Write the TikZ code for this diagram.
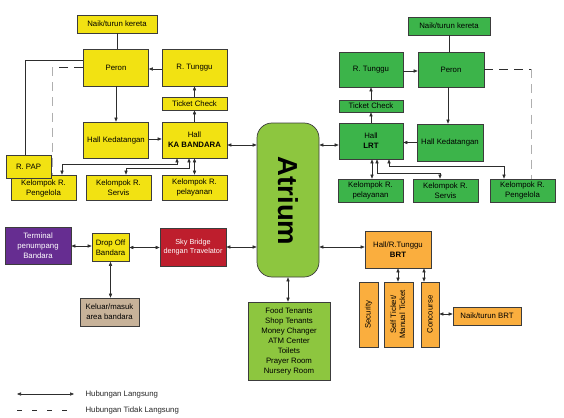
\documentclass[tikz,border=0pt]{standalone}
\usepackage{fontspec}
\setmainfont{Liberation Sans}
\usetikzlibrary{arrows.meta,calc}
\definecolor{cy}{RGB}{242,226,18}
\definecolor{cg}{RGB}{60,180,74}
\definecolor{clg}{RGB}{141,198,63}
\definecolor{cor}{RGB}{250,174,62}
\definecolor{cpu}{RGB}{102,45,145}
\definecolor{cre}{RGB}{190,30,45}
\definecolor{ctan}{RGB}{199,178,153}
\definecolor{bord}{RGB}{60,60,60}
\definecolor{lin}{RGB}{45,45,45}
\definecolor{dlight}{RGB}{175,175,175}
\newcommand\myfs{\fontsize{7.8}{10}\selectfont}
\begin{document}
\begin{tikzpicture}[x=1pt,y=-1pt,
  box/.style={draw=bord, line width=0.7pt, inner sep=1pt, align=center, font=\myfs, text=black},
  sz/.style 2 args={minimum width=#1pt, minimum height=#2pt},
  conn/.style={draw=lin, line width=0.6pt},
  arr/.style={conn, -{Triangle[length=4pt,width=3.2pt]}},
  darr/.style={conn, {Triangle[length=4pt,width=3.2pt]}-{Triangle[length=4pt,width=3.2pt]}},
  dsh/.style={line width=0.8pt, dash pattern=on 9pt off 6pt},
  lgtxt/.style={anchor=west, font=\fontsize{7.8}{9}\selectfont, text=black!85}
]
\useasboundingbox (0,0) rectangle (564,417);

% ---------- left (KA Bandara) ----------
\node[box, fill=cy, sz={80}{18}] (nkL) at (117,24) {Naik/turun kereta};
\node[box, fill=cy, sz={65}{37}] (peronL) at (116,67.5) {Peron};
\node[box, fill=cy, sz={65}{37}] (tungguL) at (194.5,67.5) {R. Tunggu};
\node[box, fill=cy, sz={65}{13}] (tcL) at (194.5,103.5) {Ticket Check};
\node[box, fill=cy, sz={65}{36}] (hallKL) at (116,140) {Hall Kedatangan};
\node[box, fill=cy, sz={65}{36}] (hallKA) at (194.5,140) {Hall\\\textbf{KA BANDARA}};
\node[box, fill=cy, sz={65}{25}] (pengL) at (43.5,187.5) {\raisebox{-3pt}[0pt][0pt]{\begin{tabular}{@{}c@{}}Kelompok R.\\Pengelola\end{tabular}}};
\node[box, fill=cy, sz={65}{25}] (servL) at (118.5,187.5) {Kelompok R.\\Servis};
\node[box, fill=cy, sz={65}{25}] (pelL) at (194.5,187.5) {Kelompok R.\\pelayanan};
\node[box, fill=cy, sz={45}{23}] (pap) at (28.5,166.5) {R. PAP};

% ---------- right (LRT) ----------
\node[box, fill=cg, sz={82}{18}] (nkR) at (449,26) {Naik/turun kereta};
\node[box, fill=cg, sz={64}{35}] (tungguR) at (371,69.5) {R. Tunggu};
\node[box, fill=cg, sz={66}{35}] (peronR) at (451,69.5) {Peron};
\node[box, fill=cg, sz={64}{12}] (tcR) at (371,106) {Ticket Check};
\node[box, fill=cg, sz={64}{36}] (hallLRT) at (371,141) {Hall\\\textbf{LRT}};
\node[box, fill=cg, sz={66}{37}] (hallKR) at (450,142.5) {Hall Kedatangan};
\node[box, fill=cg, sz={65}{23}] (pelR) at (370.5,190.5) {Kelompok R.\\pelayanan};
\node[box, fill=cg, sz={65}{23}] (servR) at (445.5,190.5) {Kelompok R.\\Servis};
\node[box, fill=cg, sz={65}{23}] (pengR) at (522.5,190.5) {Kelompok R.\\Pengelola};

% ---------- atrium ----------
\node[box, fill=clg, sz={62}{154}, rounded corners=15pt] (atrium) at (288,200) {};
\node[font=\fontsize{27.5}{27.5}\selectfont\bfseries, text=black] (atriumlbl) at ([yshift=-1pt]atrium.center) {\rotatebox{-90}{Atrium}};
\node[box, fill=clg, sz={82}{78}, font=\fontsize{7.8}{10}\selectfont] (food) at (289,341)
  {Food Tenants\\Shop Tenants\\Money Changer\\ATM Center\\Toilets\\Prayer Room\\Nursery Room};

% ---------- bottom left ----------
\node[box, fill=cpu, text=white, sz={66}{37}] (term) at (38,246) {Terminal\\penumpang\\Bandara};
\node[box, fill=cy, sz={37}{28}] (drop) at (110.5,247.5) {Drop Off\\Bandara};
\node[box, fill=cre, text=white, sz={66}{38}, font=\fontsize{7.3}{9.5}\selectfont] (sky) at (193,247) {Sky Bridge\\dengan Travelator};
\node[box, fill=ctan, sz={59}{28}] (kel) at (109.5,312) {Keluar/masuk\\area bandara};

% ---------- BRT ----------
\node[box, fill=cor, sz={66}{37}] (hallBRT) at (398,249.5) {Hall/R.Tunggu\\\textbf{BRT}};
\node[box, fill=cor, sz={19}{65}] (sec) at (368.5,314.5) {\rotatebox{90}{Security}};
\node[box, fill=cor, sz={29}{65}] (self) at (398.5,314.5) {\rotatebox{90}{\begin{tabular}{@{}c@{}}Self Ticket/\\[-1pt]Manual Ticket\end{tabular}}};
\node[box, fill=cor, sz={18}{65}] (conc) at (430,314.5) {\rotatebox{90}{Concourse}};
\node[box, fill=cor, sz={68}{18}] (nkBRT) at (487,316) {Naik/turun BRT};

% ---------- connectors left ----------
\draw[conn] (nkL.south) -- (nkL.south |- peronL.north);
\coordinate (papc) at (25,60);
\draw[conn] ([yshift=7.5pt]peronL.west) -- (papc) -- ([xshift=-3.5pt]pap.north);
\coordinate (dlc) at (52,67.5);
\draw[dsh, draw=lin] (peronL.west) -- (dlc);
\draw[dsh, draw=dlight] (dlc) -- ([xshift=8.5pt]pengL.north);
\draw[arr] ([yshift=-1.5pt]tungguL.west) -- ([yshift=-1.5pt]peronL.east);
\draw[arr] (tcL.north) -- (tungguL.south);
\draw[arr] (hallKA.north) -- (tcL.south);
\draw[arr] (peronL.south) -- (hallKL.north);
\draw[arr] ([yshift=1pt]hallKL.east) -- ([yshift=1pt]hallKA.west);
\draw[darr] ([yshift=-5pt]hallKA.east) -- ([yshift=-5pt]hallKA.east -| atrium.west);
\coordinate (kl1) at (177,164);
\draw[darr] ([xshift=-17.5pt]hallKA.south) -- (kl1) -| ([xshift=18.5pt]pengL.north);
\coordinate (kl2) at (189,168);
\draw[darr] ([xshift=-5.5pt]hallKA.south) -- (kl2) -| ([xshift=7.5pt]servL.north);
\draw[darr] (hallKA.south) -- (pelL.north);

% ---------- connectors right ----------
\draw[conn] (nkR.south) -- ([xshift=-2pt]peronR.north);
\draw[arr] ([yshift=-1.5pt]tungguR.east) -- ([yshift=-1.5pt]peronR.west);
\draw[arr] ([xshift=-3pt]peronR.south) -- ([xshift=-2pt]hallKR.north);
\draw[arr] (hallKR.west) -- (hallKR.west -| hallLRT.east);
\draw[arr] (hallLRT.north) -- (tcR.south);
\draw[arr] (tcR.north) -- (tungguR.south);
\coordinate (drc) at (531,69.5);
\draw[dsh, draw=lin] (peronR.east) -- (drc);
\draw[dsh, draw=dlight] (drc) -- ([xshift=8.5pt]pengR.north);
\draw[darr] ([yshift=-4pt]hallLRT.west) -- ([yshift=-4pt]hallLRT.west -| atrium.east);
\draw[darr] ([xshift=1pt]hallLRT.south) -- ([xshift=1.5pt]pelR.north);
\coordinate (kr1) at (377,173);
\draw[darr] ([xshift=6pt]hallLRT.south) -- (kr1) -| ([xshift=-5.5pt]servR.north);
\coordinate (kr2) at (389,166);
\draw[darr] ([xshift=18pt]hallLRT.south) -- (kr2) -| ([xshift=-18.5pt]pengR.north);

% ---------- connectors bottom ----------
\draw[darr] (term.east) -- (term.east -| drop.west);
\draw[darr] (drop.east) -- (drop.east -| sky.west);
\draw[darr] (sky.east) -- (sky.east -| atrium.west);
\draw[darr] (drop.south) -- (drop.south |- kel.north);
\draw[darr] (atrium.south) -- (atrium.south |- food.north);
\draw[darr] (atrium.east |- 0,247) -- (hallBRT.west |- 0,247);
\draw[darr] (hallBRT.south) -- (hallBRT.south |- self.north);
\draw[darr] ([xshift=26pt]hallBRT.south) -- ([xshift=-6pt]conc.north);
\draw[darr] (conc.east |- 0,314) -- (nkBRT.west |- 0,314);

% ---------- legend ----------
\coordinate (lg1) at (17,394);
\coordinate (lg2) at (74,394);
\draw[darr] (lg1) -- (lg2);
\node[lgtxt] (lgt1) at (82,394) {Hubungan Langsung};
\coordinate (lg3) at (17,410);
\coordinate (lg4) at (74,410);
\draw[conn, line width=0.7pt, dash pattern=on 5pt off 10pt] (lg3) -- (lg4);
\node[lgtxt] (lgt2) at (82,410) {Hubungan Tidak Langsung};
\end{tikzpicture}
\end{document}
